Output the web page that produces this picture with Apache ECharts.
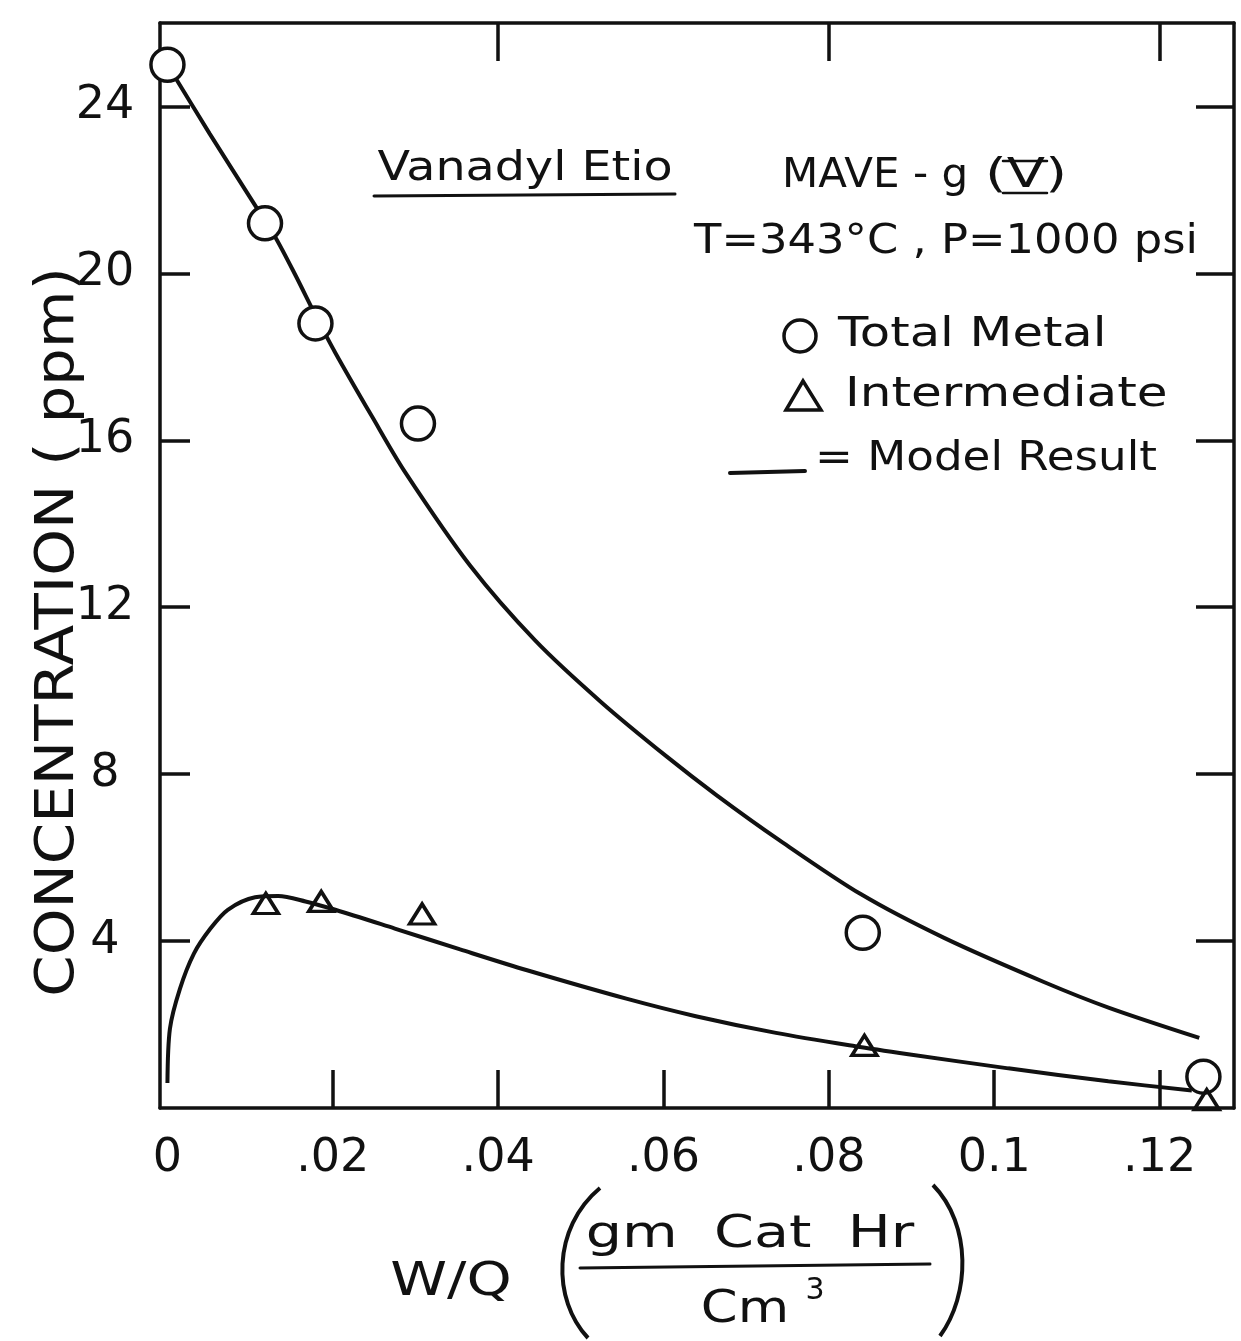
<!DOCTYPE html>
<html>
<head>
<meta charset="utf-8">
<script src="https://cdn.jsdelivr.net/npm/echarts@6/dist/echarts.min.js"></script>
<style>
html,body{margin:0;padding:0;background:#fff;}
#chart{width:1241px;height:1341px;}
</style>
</head>
<body>
<div id="chart"></div>
<script>
// ---- data ----
const totalMetalX = [0, 0.0118, 0.0179, 0.0303, 0.0841, 0.1253];
const totalMetalY = [25.0, 21.2, 18.8, 16.4, 4.2, 0.75];

const intermediateX = [0.0119, 0.0186, 0.0308, 0.0843, 0.1257];
const intermediateY = [4.9, 4.95, 4.65, 1.5, 0.2];

const modelTotalX = [0, 0.0051, 0.0107, 0.0131, 0.0155, 0.0179, 0.0203, 0.0248, 0.0287, 0.0366, 0.0445, 0.0525, 0.0604, 0.0664, 0.0740, 0.0839, 0.0940, 0.1060, 0.1139, 0.1248];
const modelTotalY = [25.0, 23.35, 21.6, 20.85, 19.95, 19.0, 18.1, 16.55, 15.25, 13.0, 11.2, 9.72, 8.42, 7.5, 6.42, 5.12, 4.07, 3.02, 2.4, 1.68];

const modelInterX = [0, 0.0003, 0.0015, 0.0032, 0.0052, 0.0073, 0.0106, 0.0134, 0.0167, 0.0203, 0.0275, 0.0354, 0.0435, 0.0555, 0.0639, 0.0736, 0.0832, 0.0896, 0.1017, 0.1138, 0.1239];
const modelInterY = [0.6, 1.9, 2.85, 3.7, 4.3, 4.75, 5.05, 5.08, 4.95, 4.75, 4.3, 3.8, 3.3, 2.62, 2.2, 1.8, 1.48, 1.29, 0.95, 0.64, 0.42];

const xTickValues = [0, 0.02, 0.04, 0.06, 0.08, 0.1, 0.12];
const xTickLabels = ['0', '.02', '.04', '.06', '.08', '0.1', '.12'];
const xInnerTicks = [0.02, 0.04, 0.06, 0.08, 0.1, 0.12];
const xTopTicks = [0.04, 0.08, 0.12];
const yTickValues = [4, 8, 12, 16, 20, 24];
const yTickLabels = ['4', '8', '12', '16', '20', '24'];

const yTitle = 'CONCENTRATION ( ppm)';
const xTitle = 'W/Q';
const xUnitTop = 'gm  Cat  Hr';
const xUnitBottom = 'Cm';
const xUnitSup = '3';
const note1 = 'Vanadyl Etio';
const note2a = 'MAVE - g';
const note2b = '(V)';
const note3 = 'T=343°C , P=1000 psi';
const legTotal = 'Total Metal';
const legInter = 'Intermediate';
const legModel = '= Model Result';

const zip = (xs, ys) => xs.map((x, i) => [x, ys[i]]);
const FONT = '"DejaVu Sans", "Liberation Sans", sans-serif';
const INK = '#111';

const chart = echarts.init(document.getElementById('chart'), null, {renderer: 'canvas'});

function txt(text, x, y, size, opts) {
  opts = opts || {};
  return {
    type: 'text', x: x, y: y, z: 100,
    scaleX: opts.sx || 1, scaleY: opts.sy || 1,
    rotation: opts.rot || 0,
    style: {
      text: text, fill: INK,
      font: 'normal ' + size + 'px ' + FONT,
      textAlign: opts.align || 'center', align: opts.align || 'center',
      textVerticalAlign: 'middle', verticalAlign: 'middle'
    }
  };
}
function ln(x1, y1, x2, y2, w) {
  return {type: 'line', z: 100, shape: {x1: x1, y1: y1, x2: x2, y2: y2},
          style: {stroke: INK, lineWidth: w || 3, lineCap: 'round'}};
}

const axisLineStyle = {show: true, onZero: false, lineStyle: {color: INK, width: 3.5}};

const option = {
  animation: false,
  backgroundColor: '#fff',
  grid: {left: 160, right: 7, top: 23, bottom: 233, containLabel: false},
  xAxis: [
    {
      type: 'value', position: 'bottom', min: -0.0009, max: 0.129,
      axisLine: axisLineStyle,
      axisTick: {show: true, inside: true, length: 38, customValues: xInnerTicks,
                 lineStyle: {color: INK, width: 3.5}},
      axisLabel: {show: true, customValues: xTickValues, margin: 28,
                  color: INK, fontSize: 46, fontFamily: FONT,
                  formatter: function (v) {
                    const i = xTickValues.findIndex(t => Math.abs(t - v) < 1e-6);
                    return i >= 0 ? xTickLabels[i] : '';
                  }},
      splitLine: {show: false}
    },
    {
      type: 'value', position: 'top', min: -0.0009, max: 0.129,
      axisLine: axisLineStyle,
      axisTick: {show: true, inside: true, length: 38, customValues: xTopTicks,
                 lineStyle: {color: INK, width: 3.5}},
      axisLabel: {show: false},
      splitLine: {show: false}
    }
  ],
  yAxis: [
    {
      type: 'value', position: 'left', min: 0, max: 26,
      axisLine: axisLineStyle,
      axisTick: {show: true, inside: true, length: 30, customValues: yTickValues,
                 lineStyle: {color: INK, width: 3.5}},
      axisLabel: {show: true, customValues: yTickValues, margin: 55, align: 'center',
                  color: INK, fontSize: 46, fontFamily: FONT,
                  formatter: function (v) {
                    const i = yTickValues.indexOf(Math.round(v));
                    return i >= 0 ? yTickLabels[i] : '';
                  }},
      splitLine: {show: false}
    },
    {
      type: 'value', position: 'right', min: 0, max: 26,
      axisLine: axisLineStyle,
      axisTick: {show: true, inside: true, length: 38, customValues: yTickValues,
                 lineStyle: {color: INK, width: 3.5}},
      axisLabel: {show: false},
      splitLine: {show: false}
    }
  ],
  series: [
    {
      name: 'Model Total', type: 'line', xAxisIndex: 0, yAxisIndex: 0,
      data: zip(modelTotalX, modelTotalY), showSymbol: false, symbol: 'none',
      smooth: 0.3,
      lineStyle: {color: INK, width: 4}, z: 2
    },
    {
      name: 'Model Intermediate', type: 'line', xAxisIndex: 0, yAxisIndex: 0,
      data: zip(modelInterX, modelInterY), showSymbol: false, symbol: 'none',
      smooth: 0.3,
      lineStyle: {color: INK, width: 4}, z: 2
    },
    {
      name: 'Total Metal', type: 'scatter', xAxisIndex: 0, yAxisIndex: 0,
      data: zip(totalMetalX, totalMetalY), symbol: 'circle', symbolSize: 33,
      itemStyle: {color: '#fff', borderColor: INK, borderWidth: 3.5, opacity: 1}, z: 5
    },
    {
      name: 'Intermediate', type: 'scatter', xAxisIndex: 0, yAxisIndex: 0,
      data: zip(intermediateX, intermediateY), symbol: 'triangle', symbolSize: [25, 20],
      itemStyle: {color: 'rgba(255,255,255,0)', borderColor: INK, borderWidth: 3.5, opacity: 1}, z: 5
    }
  ],
  graphic: {
    elements: [
      // axis titles
      txt(yTitle, 59, 632, 54, {rot: Math.PI / 2, sx: 1.1}),
      txt(xTitle, 451, 1283, 46, {sx: 1.25}),
      txt(xUnitTop, 750, 1236, 44, {sx: 1.3}),
      ln(580, 1268, 930, 1264, 3),
      txt(xUnitBottom, 745, 1311, 44, {sx: 1.2}),
      txt(xUnitSup, 815, 1291, 30),
      {type: 'bezierCurve', z: 100,
       shape: {x1: 600, y1: 1188, cpx1: 552, cpy1: 1228, cpx2: 552, cpy2: 1300, x2: 588, y2: 1338},
       style: {stroke: INK, lineWidth: 4, fill: null}},
      {type: 'bezierCurve', z: 100,
       shape: {x1: 933, y1: 1185, cpx1: 972, cpy1: 1225, cpx2: 970, cpy2: 1295, x2: 940, y2: 1336},
       style: {stroke: INK, lineWidth: 4, fill: null}},
      // annotations
      txt(note1, 525, 170, 40, {sx: 1.19}),
      ln(374, 196, 675, 194, 3),
      txt(note2a, 782, 177, 40, {sx: 1.05, align: 'left'}),
      txt(note2b, 985, 177, 40, {sx: 1.4, align: 'left'}),
      ln(1003, 161, 1047, 161, 2.5),
      ln(1003, 193, 1047, 193, 2.5),
      txt(note3, 946, 243, 40, {sx: 1.12}),
      // legend
      {type: 'circle', z: 100, shape: {cx: 800, cy: 336, r: 16},
       style: {stroke: INK, lineWidth: 3.5, fill: '#fff'}},
      txt(legTotal, 838, 336, 40, {sx: 1.24, align: 'left'}),
      {type: 'polygon', z: 100, shape: {points: [[786, 410], [821, 410], [803, 381]]},
       style: {stroke: INK, lineWidth: 3.5, fill: null}},
      txt(legInter, 845, 396, 40, {sx: 1.25, align: 'left'}),
      ln(730, 473, 805, 471, 4),
      txt(legModel, 815, 460, 40, {sx: 1.13, align: 'left'})
    ]
  }
};
chart.setOption(option);
</script>
</body>
</html>
